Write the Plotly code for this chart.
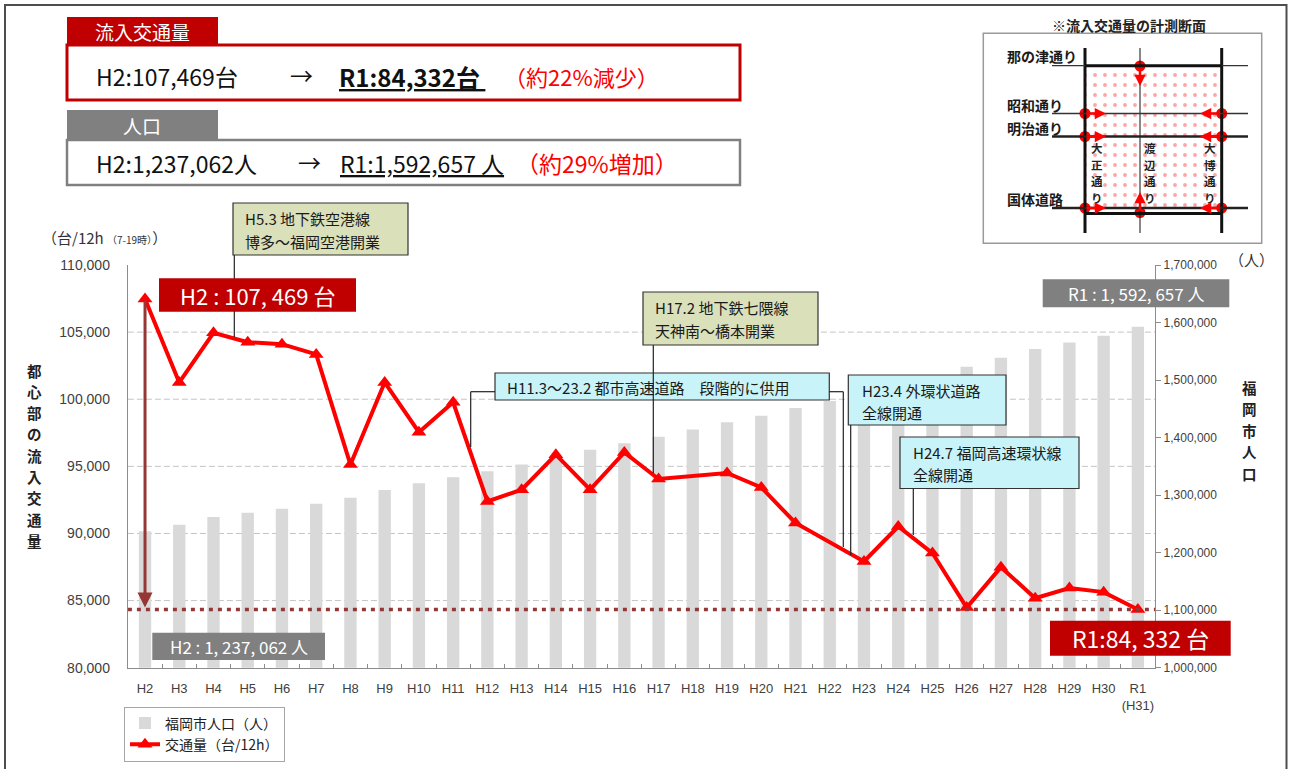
import plotly.graph_objects as go

# ---------------- data ----------------
categories = ["H2", "H3", "H4", "H5", "H6", "H7", "H8", "H9", "H10", "H11",
              "H12", "H13", "H14", "H15", "H16", "H17", "H18", "H19", "H20", "H21",
              "H22", "H23", "H24", "H25", "H26", "H27", "H28", "H29", "H30", "R1"]
tick_labels = categories[:-1] + ["R1<br>(H31)"]

traffic = [107469, 101250, 104950, 104250, 104100, 103340, 95130, 101250, 97540, 99770,
           92390, 93260, 95870, 93260, 96040, 94060, None, 94510, 93430, 90780,
           None, 87910, 90520, 88540, 84480, 87490, 85180, 85930, 85630, 84332]

population = [1237062, 1248600, 1261800, 1269400, 1276400, 1284795, 1295500, 1308700, 1320800, 1331200,
              1341470, 1353000, 1366000, 1378700, 1390000, 1401279, 1414000, 1426600, 1438000, 1451500,
              1463743, 1476000, 1490000, 1506000, 1523000, 1538681, 1553800, 1565300, 1576900, 1592657]

traffic_ticks = [80000, 85000, 90000, 95000, 100000, 105000, 110000]
traffic_grid = [85000, 90000, 95000, 100000, 105000]
population_ticks = [1000000, 1100000, 1200000, 1300000, 1400000, 1500000, 1600000, 1700000]

series_names = ["福岡市人口（人）", "交通量（台/12h）"]

# ---------------- styling ----------------
W, H = 1290, 769
CJK = "Noto Sans CJK JP"
RED = "#FF0000"
DARKRED = "#C00000"
BROWN = "#953735"
GRAY_TAB = "#808080"
OLIVE = "#D9E0BA"
CYAN = "#C8F3F8"
AX = "#8C8C8C"

X0, X1 = 127.9, 1155.0          # plot area left/right (px)
YT, YB = 265.0, 667.7           # plot area top/bottom (px)

fig = go.Figure()

fig.add_trace(go.Bar(
    x=categories, y=population, name=series_names[0],
    marker=dict(color="#D9D9D9", line=dict(width=0)), width=0.36,
    xaxis="x", yaxis="y", hoverinfo="skip"))

fig.add_trace(go.Scatter(
    x=categories, y=traffic, name=series_names[1], mode="lines+markers",
    line=dict(color=RED, width=4),
    marker=dict(symbol="triangle-up", size=13, color=RED),
    connectgaps=True, xaxis="x", yaxis="y2", hoverinfo="skip"))

# ---------- inset diagram (pixel overlay axes x3/y3) ----------
dl, dr, dm = 1085.0, 1221.7, 1140.0
dtop, dbot = 66.0, 212.5
fig.add_trace(go.Scatter(
    x=[dl, dr, dr, dl, dl], y=[dtop, dtop, dbot, dbot, dtop], mode="lines",
    fill="toself", fillcolor="white", line=dict(width=0),
    fillpattern=dict(shape=".", fgcolor="#FF4B4B", bgcolor="white", size=10, solidity=0.12),
    xaxis="x3", yaxis="y3", showlegend=False, hoverinfo="skip"))

circ_x = [dm, dl, dr, dl, dr, dl, dr, dm]
circ_y = [66.0, 113.5, 113.5, 136.5, 136.5, 208.0, 208.0, 212.5]
fig.add_trace(go.Scatter(
    x=circ_x, y=circ_y, mode="markers", marker=dict(size=11, color=RED),
    xaxis="x3", yaxis="y3", showlegend=False, hoverinfo="skip"))

shapes = []
annotations = []


def rect(x0, y0, x1, y1, fill=None, line=None, lw=1.0, layer="above"):
    shapes.append(dict(type="rect", xref="x3", yref="y3", x0=x0, y0=y0, x1=x1, y1=y1,
                       fillcolor=fill if fill else "rgba(0,0,0,0)",
                       line=dict(color=line if line else "rgba(0,0,0,0)", width=lw if line else 0),
                       layer=layer))


def seg(x0, y0, x1, y1, color="#000", w=1.0, dash="solid", layer="above"):
    shapes.append(dict(type="line", xref="x3", yref="y3", x0=x0, y0=y0, x1=x1, y1=y1,
                       line=dict(color=color, width=w, dash=dash), layer=layer))


def text(x, y, s, size, color="#1a1a1a", xa="left", ya="middle", family=CJK, align="left"):
    annotations.append(dict(xref="x3", yref="y3", x=x, y=y, text=s, showarrow=False,
                            xanchor=xa, yanchor=ya, align=align,
                            font=dict(size=size, color=color, family=family)))


def vtext(x, y_first, step, s, size, color="#222", bold=True):
    for i, ch in enumerate(s):
        text(x, y_first + i * step, ("<b>%s</b>" % ch) if bold else ch, size, color, xa="center")


def arrow(xh, yh, xt, yt, color=RED, w=2.5, head=2, size=0.9):
    annotations.append(dict(xref="x3", yref="y3", x=xh, y=yh, axref="x3", ayref="y3",
                            ax=xt, ay=yt, text="", showarrow=True, arrowhead=head,
                            arrowsize=size, arrowwidth=w, arrowcolor=color, standoff=0))


# outer frame
rect(5, 5, 1286.5, 800, line="#4d4d4d", lw=2)

# ---- top summary boxes ----
rect(67, 17, 218, 45, fill=DARKRED)
rect(67, 45, 740, 100, fill="white", line=DARKRED, lw=3)
text(142, 31, "流入交通量", 19, "white", xa="center")
text(94, 76, "H2:107,469台", 23, "#111")
text(288, 75, "→", 23, "#111")
text(337, 76, "<b><u>R1:84,332台 </u></b>", 24, "#111")
text(502, 76, "（約22%減少）", 22, RED)

rect(67, 110, 218, 140, fill=GRAY_TAB)
rect(67, 140, 740, 185, fill="white", line=GRAY_TAB, lw=2.5)
text(142, 125, "人口", 19, "white", xa="center")
text(94, 163, "H2:1,237,062人", 23, "#111")
text(296, 162, "→", 23, "#111")
text(338, 163, "<u>R1:1,592,657 人</u>", 23, "#111")
text(514, 163, "（約29%増加）", 23, RED)

# ---- inset diagram ----
text(1129, 25, "<b>※流入交通量の計測断面</b>", 14, "#222", xa="center")
rect(983.3, 33.3, 1261.7, 243.3, line="#9a9a9a", lw=1.5)
seg(dl, 48, dl, 233, "#111", 3)
seg(dr, 48, dr, 233, "#111", 3)
seg(dm, 48, dm, 233, "#111", 1)
seg(1052, 65.7, 1248, 65.7, "#333", 1.3)
seg(dl, 65.7, dr, 65.7, "#111", 3)
seg(1052, 113.5, 1248, 113.5, "#333", 1.3)
seg(1052, 136.5, 1248, 136.5, "#222", 2.5)
seg(1052, 208.0, 1248, 208.0, "#222", 2.5)
seg(dl, 213.5, dr, 213.5, "#111", 3)
text(1005, 56, "<b>那の津通り</b>", 14)
text(1005, 105, "<b>昭和通り</b>", 14)
text(1005, 128, "<b>明治通り</b>", 14)
text(1005, 199, "<b>国体道路</b>", 14)
vtext(1097, 148, 16.7, "大正通り", 11.5)
vtext(1150, 148, 16.7, "渡辺通り", 11.5)
vtext(1210, 148, 16.7, "大博通り", 11.5)
arrow(dm, 86, dm, 66)
arrow(1106, 113.5, dl, 113.5)
arrow(1200, 113.5, dr, 113.5)
arrow(1106, 136.5, dl, 136.5)
arrow(1200, 136.5, dr, 136.5)
arrow(1106, 208, dl, 208)
arrow(1200, 208, dr, 208)
arrow(dm, 192, dm, 212.5)

# ---- axis titles ----
text(40, 237, "（台/12h <span style='font-size:10px'>（7-19時）</span>）", 15, "#333")
vtext(34, 370, 21.3, "都心部の流入交通量", 14.5)
vtext(1249, 387, 21.6, "福岡市人口", 14.5)
text(1251, 259, "（人）", 15, "#333", xa="center")

# ---- event callouts ----
rect(233, 203, 408, 255, fill=OLIVE, line="#333", lw=1.2)
text(243, 218, "H5.3 地下鉄空港線", 15)
text(243, 241, "博多～福岡空港開業", 15)
seg(234.3, 255, 234.3, 337, "#222", 1.2)

rect(495, 373, 829.3, 400, fill=CYAN, line="#333", lw=1.2)
text(505, 387, "H11.3～23.2 都市高速道路　段階的に供用", 15)
seg(495, 391.7, 470.7, 391.7, "#222", 1.2)
seg(470.7, 391.7, 470.7, 447, "#222", 1.2)
seg(829.3, 391.7, 843.3, 391.7, "#222", 1.2)
seg(843.3, 391.7, 843.3, 547, "#222", 1.2)

rect(643, 292, 818, 345, fill=OLIVE, line="#333", lw=1.2)
text(653, 307, "H17.2 地下鉄七隈線", 15)
text(653, 330, "天神南～橋本開業", 15)
seg(653.3, 345, 653.3, 473, "#222", 1.2)

rect(848.3, 375, 1006, 425, fill=CYAN, line="#333", lw=1.2)
text(860, 390, "H23.4 外環状道路", 15)
text(860, 412, "全線開通", 15)
seg(850.7, 425, 850.7, 555, "#222", 1.2)

rect(900, 437, 1079, 488.5, fill=CYAN, line="#333", lw=1.2)
text(911, 452, "H24.7 福岡高速環状線", 15)
text(911, 474, "全線開通", 15)
seg(913.3, 488.5, 913.3, 535, "#222", 1.2)

# ---- value labels ----
rect(159, 278.3, 356, 311.7, fill=DARKRED)
text(257.5, 295, "H2 : 107, 469 台", 22, "white", xa="center")
rect(1050, 620.7, 1230.7, 655.7, fill=DARKRED)
text(1140, 638, "R1:84, 332 台", 23, "white", xa="center")
rect(1042.7, 279.3, 1229.3, 307.3, fill=GRAY_TAB)
text(1136, 293.3, "R1 : 1, 592, 657 人", 17, "white", xa="center")
rect(152.3, 632.7, 325, 660, fill=GRAY_TAB)
text(238.7, 646.3, "H2 : 1, 237, 062 人", 17, "white", xa="center")

# ---- gridlines and reference line (data coordinates) ----
for v in traffic_grid:
    shapes.append(dict(type="line", xref="x domain", yref="y2", x0=0, x1=1, y0=v, y1=v,
                       line=dict(color="#C4C4C4", width=1, dash="6px,3px"), layer="below"))
shapes.append(dict(type="line", xref="x domain", yref="y2", x0=0, x1=1,
                   y0=traffic[-1], y1=traffic[-1],
                   line=dict(color=BROWN, width=3.5, dash="4px,5px"), layer="above"))
annotations.append(dict(xref="x", yref="y2", x=0, y=traffic[-1], axref="x", ayref="y2",
                        ax=0, ay=traffic[0], text="", showarrow=True, arrowhead=2,
                        arrowsize=1, arrowwidth=3, arrowcolor=BROWN, standoff=2,
                        startstandoff=0))

fig.update_layout(
    width=W, height=H, margin=dict(l=0, r=0, t=0, b=0, autoexpand=False),
    paper_bgcolor="white", plot_bgcolor="rgba(0,0,0,0)",
    font=dict(family="Liberation Sans, " + CJK, color="#333"),
    showlegend=True,
    legend=dict(x=124 / W, y=1 - 706.5 / H, xanchor="left", yanchor="top",
                bordercolor="#A6A6A6", borderwidth=1, bgcolor="white",
                font=dict(size=14, family=CJK, color="#222"), itemwidth=30,
                tracegroupgap=0),
    xaxis=dict(domain=[X0 / W, X1 / W], type="category", categoryorder="array",
               categoryarray=categories, range=[-0.5, len(categories) - 0.5],
               tickmode="array", tickvals=categories,
               ticktext=tick_labels, showline=True, linecolor=AX, linewidth=1.3,
               ticks="inside", tickson="boundaries", ticklen=4, tickcolor=AX,
               tickangle=0, tickfont=dict(size=13, color="#404040"), ticklabelstandoff=9,
               showgrid=False, zeroline=False, anchor="y", fixedrange=True,
               automargin=False),
    yaxis=dict(domain=[1 - YB / H, 1 - YT / H], side="right", range=[1000000, 1700000],
               tickmode="array", tickvals=population_ticks, tickformat=",",
               showline=True, linecolor=AX, linewidth=1.3, ticks="outside", ticklen=5,
               tickcolor=AX, tickfont=dict(size=12, color="#404040"),
               showgrid=False, zeroline=False, anchor="x", fixedrange=True,
               automargin=False),
    yaxis2=dict(overlaying="y", side="left", range=[80000, 110000], tickmode="array",
                tickvals=traffic_ticks, tickformat=",", showline=True, linecolor=AX,
                linewidth=1.3, ticks="", tickfont=dict(size=14, color="#404040"),
                ticklabelstandoff=14, showgrid=False, zeroline=False, anchor="x",
                fixedrange=True, automargin=False),
    xaxis3=dict(domain=[0, 1], range=[0, W], visible=False, anchor="y3",
                fixedrange=True, automargin=False),
    yaxis3=dict(domain=[0, 1], range=[H, 0], visible=False, anchor="x3",
                fixedrange=True, automargin=False),
    shapes=shapes, annotations=annotations,
)

fig.write_html("out.html", config={"displayModeBar": False},
               post_script="document.body.style.margin='0px';")
